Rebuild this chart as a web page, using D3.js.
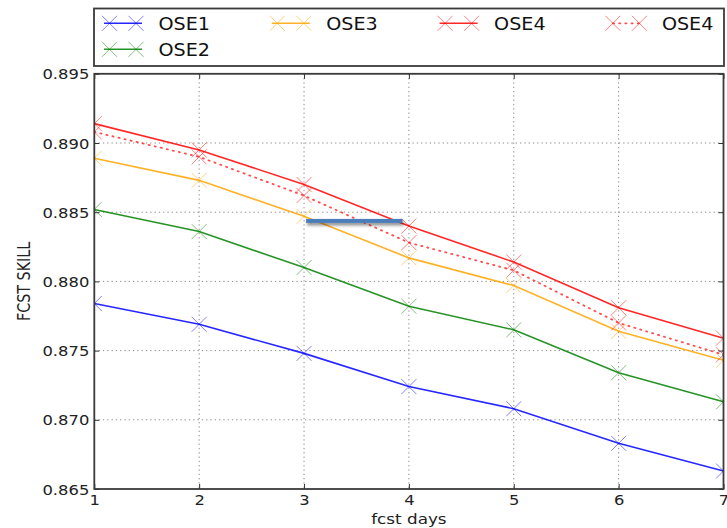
<!DOCTYPE html>
<html>
<head>
<meta charset="utf-8">
<script src="https://cdn.jsdelivr.net/npm/d3@7"></script>
<style>
  html, body { margin: 0; padding: 0; background: #fff; }
  svg { display: block; font-family: "DejaVu Sans", sans-serif; }
</style>
</head>
<body>
<svg id="chart" width="727" height="528"></svg>
<script>
// ---- data ----
const days = [1, 2, 3, 4, 5, 6, 7];
const ose1 = [0.8784, 0.8769, 0.8748, 0.8724, 0.8708, 0.8683, 0.8663];
const ose2 = [0.8852, 0.8836, 0.8810, 0.8782, 0.8765, 0.8734, 0.8713];
const ose3 = [0.8889, 0.8873, 0.8847, 0.8817, 0.8797, 0.8764, 0.8743];
const ose4 = [0.8914, 0.8895, 0.8870, 0.8840, 0.8814, 0.8781, 0.8759];
const ose4b = [0.8908, 0.8890, 0.8862, 0.8828, 0.8808, 0.8770, 0.8747];
const yTicks = [0.865, 0.870, 0.875, 0.880, 0.885, 0.890, 0.895];
const seriesNames = ["OSE1", "OSE2", "OSE3", "OSE4", "OSE4"];
const seriesColors = ["#0000ff", "#008000", "#ffa500", "#ff0000", "#ff0000"];
const seriesDashed = [false, false, false, false, true];
const seriesValues = [ose1, ose2, ose3, ose4, ose4b];
// stray highlight bar drawn over the chart (value coordinates)
const barX = [3.02, 3.94];
const barY = 0.88437;

// ---- layout ----
const svg = d3.select("#chart");
const L = 94.3, R = 723.5, T = 73.8, B = 489;
const x = d3.scaleLinear().domain([1, 7]).range([L, R]);
const y = d3.scaleLinear().domain([0.865, 0.895]).range([B, T]);
const SX = 1.17; // horizontal text stretch of the reference

// clip
svg.append("defs").append("clipPath").attr("id", "plotclip")
  .append("rect").attr("x", L).attr("y", T).attr("width", R - L).attr("height", B - T);

// grid
const grid = svg.append("g");
grid.selectAll("line.gx").data(days.slice(1, -1)).join("line")
  .attr("x1", d => x(d)).attr("x2", d => x(d)).attr("y1", T).attr("y2", B)
  .attr("stroke", "#8a8a8a").attr("stroke-width", 1).attr("stroke-dasharray", "1.3,3");
grid.selectAll("line.gy").data(yTicks.slice(1, -1)).join("line")
  .attr("y1", d => y(d)).attr("y2", d => y(d)).attr("x1", L).attr("x2", R)
  .attr("stroke", "#8a8a8a").attr("stroke-width", 1).attr("stroke-dasharray", "1.3,3");

// axes
const fmt = d3.format(".3f");
const xAxis = svg.append("g").attr("transform", `translate(0,${B})`)
  .call(d3.axisBottom(x).tickValues(days).tickFormat(d3.format("d")).tickSizeInner(-5).tickSizeOuter(0).tickPadding(6));
const xAxisTop = svg.append("g").attr("transform", `translate(0,${T})`)
  .call(d3.axisTop(x).tickValues(days).tickFormat("").tickSizeInner(-5).tickSizeOuter(0));
const yAxis = svg.append("g").attr("transform", `translate(${L},0)`)
  .call(d3.axisLeft(y).tickValues(yTicks).tickFormat(fmt).tickSizeInner(-5).tickSizeOuter(0).tickPadding(5));
const yAxisR = svg.append("g").attr("transform", `translate(${R},0)`)
  .call(d3.axisRight(y).tickValues(yTicks).tickFormat("").tickSizeInner(-5).tickSizeOuter(0));
[xAxis, xAxisTop, yAxis, yAxisR].forEach(g => {
  g.select(".domain").remove();
  g.selectAll(".tick line").attr("stroke", "#333").attr("stroke-width", 1);
  g.selectAll("text").attr("font-family", "DejaVu Sans").attr("font-size", 14).attr("fill", "#222");
});
xAxis.selectAll("text").attr("transform", `scale(${SX},1)`);
yAxis.selectAll("text").attr("x", -5 / SX).attr("transform", `scale(${SX},1)`).attr("dy", "0.36em");

// series
const line = d3.line().x((d, i) => x(days[i])).y(d => y(d));
const plot = svg.append("g").attr("clip-path", "url(#plotclip)");
const M = 7.5;
function xMarker(g, cx, cy, color) {
  g.append("path")
    .attr("d", `M${cx - M},${cy - M}L${cx + M},${cy + M}M${cx - M},${cy + M}L${cx + M},${cy - M}`)
    .attr("stroke", color).attr("stroke-width", 1).attr("stroke-opacity", 0.5).attr("fill", "none");
}
function styleLine(p, si) {
  p.attr("fill", "none").attr("stroke", seriesColors[si]).attr("stroke-opacity", 0.85).attr("stroke-width", 1.6);
  if (seriesDashed[si]) p.attr("stroke-dasharray", "1.2,5").attr("stroke-linecap", "round")
    .attr("stroke-width", 1.8).attr("stroke-opacity", 0.7);
  return p;
}
seriesValues.forEach((vals, si) => {
  styleLine(plot.append("path").datum(vals).attr("d", line), si);
});
seriesValues.forEach((vals, si) => {
  vals.forEach((v, i) => xMarker(plot, x(days[i]), y(v), seriesColors[si]));
});

// frame
svg.append("rect").attr("x", L).attr("y", T).attr("width", R - L).attr("height", B - T)
  .attr("fill", "none").attr("stroke", "#3a3a3a").attr("stroke-width", 1.8);

// highlight bar with shadow
const filt = svg.select("defs").append("filter").attr("id", "shadow").attr("x", "-10%").attr("y", "-100%").attr("width", "120%").attr("height", "400%");
filt.append("feDropShadow").attr("dx", 1).attr("dy", 2.5).attr("stdDeviation", 1.8).attr("flood-color", "#000").attr("flood-opacity", 0.45);
svg.append("rect").attr("x", x(barX[0])).attr("width", x(barX[1]) - x(barX[0]))
  .attr("y", y(barY) - 2).attr("height", 4)
  .attr("fill", "#4a7ebb").attr("filter", "url(#shadow)");

// axis labels
svg.append("text").attr("transform", `translate(${(L + R) / 2},524) scale(1.2,1)`)
  .attr("text-anchor", "middle").attr("font-size", 14).attr("fill", "#222").text("fcst days");
svg.append("text").attr("transform", `translate(30,${(T + B) / 2}) scale(1.2,1) rotate(-90)`)
  .attr("text-anchor", "middle").attr("font-size", 14.3).attr("fill", "#222").text("FCST SKILL");

// legend
const leg = svg.append("g");
leg.append("rect").attr("x", 94).attr("y", 8.5).attr("width", 630).attr("height", 57.5)
  .attr("fill", "#fff").attr("stroke", "#3a3a3a").attr("stroke-width", 1.8);
const legPos = [[0, 0], [0, 1], [1, 0], [2, 0], [3, 0]];
seriesNames.forEach((name, si) => {
  const [c, r] = legPos[si];
  const x0 = 102 + c * 167.8;
  const yy = 23.3 + r * 26;
  const h = styleLine(leg.append("path"), si);
  h.attr("d", seriesDashed[si] ? `M${x0 + 7.5},${yy}L${x0 + 34},${yy}` : `M${x0 + 2},${yy}L${x0 + 40},${yy}`);
  xMarker(leg, x0 + 7.5, yy, seriesColors[si]);
  xMarker(leg, x0 + 34, yy, seriesColors[si]);
  leg.append("text").attr("transform", `translate(${x0 + 56.5},${yy + 6.4}) scale(1.1,1)`)
    .attr("font-size", 17.4).attr("fill", "#111").text(name);
});
</script>
</body>
</html>
